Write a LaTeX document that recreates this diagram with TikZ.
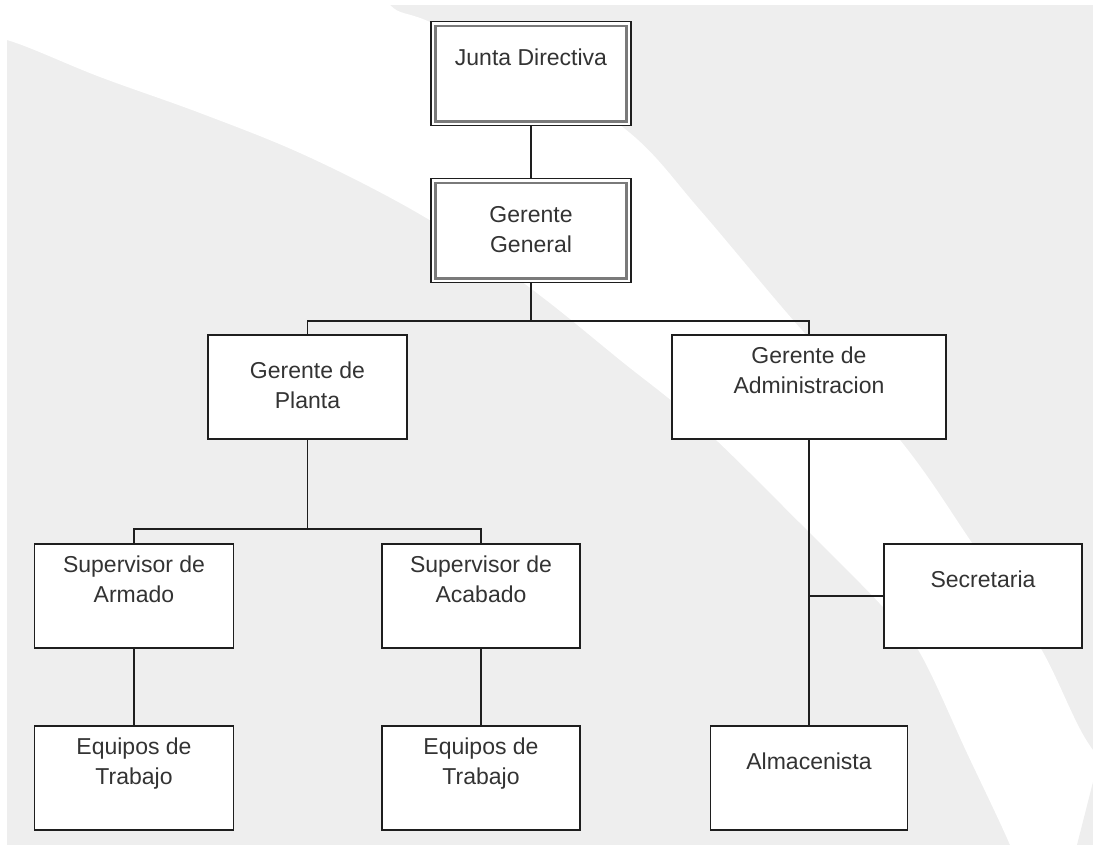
\documentclass[tikz,border=0pt]{standalone}
\usepackage{fontspec}
\setmainfont{Liberation Sans}

\definecolor{fondo}{HTML}{EEEEEE}
\definecolor{trazo}{HTML}{1E1E1E}
\definecolor{letra}{HTML}{333333}
\definecolor{marco}{HTML}{7A7A7A}

\newcommand{\rotulo}[2][23pt]{\parbox[c][104pt][t]{190pt}{\centering\vspace*{#1}\strut #2}}

\begin{document}
\begin{tikzpicture}
        [
            x = 1pt, y = -1pt,
            caja/.style = {draw = trazo, line width = 1.5pt, fill = white, inner sep = 0pt,
                           anchor = north, minimum width = 199pt,
                           font = \fontsize{23pt}{30pt}\selectfont, text = letra},
            doble/.style = {caja, line width = 1.3pt, minimum width = 200pt},
            linea/.style = {draw = trazo, line width = 1.6pt}
        ]

        % fondo
        \useasboundingbox (0,0) rectangle (1093,845);
        \fill[white] (0,0) rectangle (1093,845);
        \fill[fondo] (7,5) rectangle (1093,845);
        \fill[white] plot[smooth cycle, tension = 0.6] coordinates {(-60,-60) (-40,36) (7,40) (100,77)
            (200,113) (300,153) (400,203) (480,252) (546,300) (620,360) (700,425) (800,523)
            (883,607) (920,653) (967,753) (1010,845) (1030,900) (1150,900) (1150,790) (1093,750)
            (1040,647) (970,540) (900,440) (793,320) (700,210) (630,133) (530,68) (430,22) (390,5) (370,-40)};
        \fill[fondo] (1093,782) -- (1093,845) -- (1077,845) -- cycle;

        % cajas
        \node[doble] (jd) at (531,21) {\rotulo{Junta Directiva}};
        \node[doble] (gg) at (531,178) {\rotulo{Gerente\\General}};
        \node[caja] (gp) at (307.5,334) {\rotulo{Gerente de\\Planta}};
        \node[caja, minimum width = 274pt] (ga) at (809,334) {\rotulo[8pt]{Gerente de\\Administracion}};
        \node[caja] (sa) at (134,543) {\rotulo[7.5pt]{Supervisor de\\Armado}};
        \node[caja, minimum width = 198pt] (sb) at (481,543) {\rotulo[7.5pt]{Supervisor de\\Acabado}};
        \node[caja, minimum width = 198pt] (se) at (983,543) {\rotulo{Secretaria}};
        \node[caja] (et1) at (134,725) {\rotulo[7.5pt]{Equipos de\\Trabajo}};
        \node[caja, minimum width = 198pt] (et2) at (481,725) {\rotulo[7.5pt]{Equipos de\\Trabajo}};
        \node[caja, minimum width = 197pt] (al) at (809,725) {\rotulo{Almacenista}};

        % marcos interiores
        \foreach \n in {jd, gg}
            \draw[marco, line width = 2.5pt] ([shift = {(5pt,-5pt)}]\n.north west) rectangle ([shift = {(-5pt,5pt)}]\n.south east);

        % conexiones
        \coordinate (bus1) at (531,321);
        \coordinate (bus2) at (307.5,529);
        \draw[linea] (jd.south) -- (gg.north);
        \draw[linea] (gg.south) -- (bus1);
        \draw[linea] (gp.north) |- (bus1) -| (ga.north);
        \draw[linea] (gp.south) -- (bus2);
        \draw[linea] (sa.north) |- (bus2) -| (sb.north);
        \draw[linea] (sa.south) -- (et1.north);
        \draw[linea] (sb.south) -- (et2.north);
        \draw[linea] (ga.south) -- (al.north);
        \draw[linea] (se.west) -- (se.west -| al.north);
\end{tikzpicture}
\end{document}
